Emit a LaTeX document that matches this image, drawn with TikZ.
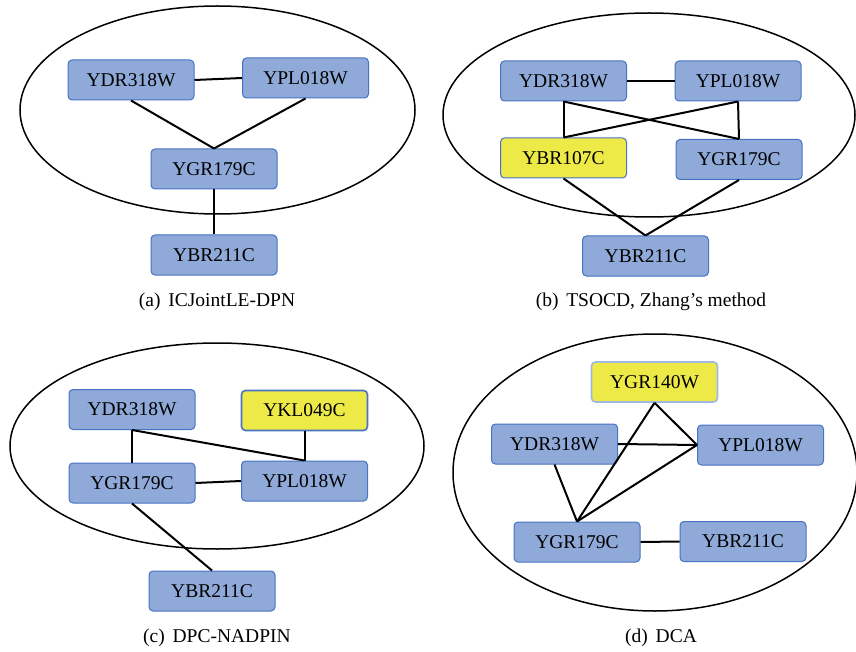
\documentclass[tikz,border=0pt]{standalone}
\usepackage{fontspec}
\setmainfont{Liberation Serif}
\usepackage{tikz}
\usetikzlibrary{shapes}

\definecolor{boxblue}{RGB}{143,169,216}
\definecolor{edgeblue}{RGB}{72,114,196}
\definecolor{hityellow}{RGB}{237,234,72}
\definecolor{paleblue}{RGB}{160,184,226}

\begin{document}
\begin{tikzpicture}[x=1pt, y=-1pt,
  gene/.style={draw=edgeblue, line width=1pt, fill=boxblue, rounded corners=4pt,
    minimum width=126pt, minimum height=40pt, inner sep=0pt, font=\fontsize{19.5}{19.5}\selectfont},
  newgene/.style={gene, fill=hityellow},
  link/.style={line width=2pt, black},
  module/.style={line width=1.5pt, black},
  lbl/.style={font=\fontsize{19.5}{19.5}\selectfont}]

  \useasboundingbox[fill=white] (0,0) rectangle (856,652);

  %% (a)
  \draw[module] (217.5,110) ellipse [x radius=197.5, y radius=104];
  \node[gene] (aYDR) at (131,80) {YDR318W};
  \node[gene] (aYPL) at (305.5,78) {YPL018W};
  \node[gene] (aYGR) at (214,169) {YGR179C};
  \node[gene] (aYBR) at (214,255) {YBR211C};
  \draw[link] (aYDR.east) -- (aYPL.west);
  \draw[link] (aYDR.south) -- (aYGR.north);
  \draw[link] (aYPL.south) -- (aYGR.north);
  \draw[link] (aYGR.south) -- (aYBR.north);
  \node[lbl] (acap) at (217,302) {(a)\hspace{0.4em}ICJointLE-DPN};

  %% (b)
  \draw[module] (649,115) ellipse [x radius=206, y radius=102];
  \node[gene] (bYDR) at (563.5,81) {YDR318W};
  \node[gene] (bYPL) at (738,81) {YPL018W};
  \node[newgene] (bYBRa) at (563.5,158) {YBR107C};
  \node[gene] (bYGR) at (739,159.5) {YGR179C};
  \node[gene] (bYBR) at (645.5,256) {YBR211C};
  \draw[link] (bYDR.east) -- (bYPL.west);
  \draw[link] (bYDR.south) -- (bYBRa.north);
  \draw[link] (bYDR.south) -- (bYGR.north);
  \draw[link] (bYPL.south) -- (bYBRa.north);
  \draw[link] (bYPL.south) -- (bYGR.north);
  \draw[link] (bYBRa.south) -- (bYBR.north); %% YBR107C->YBR211C
  \draw[link] (bYGR.south) -- (bYBR.north);
  \node[lbl] (bcap) at (651,302) {(b)\hspace{0.4em}TSOCD, Zhang’s method};

  %% (c)
  \draw[module] (217,446) ellipse [x radius=207, y radius=103];
  \node[gene] (cYDR) at (132,409.5) {YDR318W};
  \node[newgene, line width=1.6pt] (cYKL) at (304.5,410.5) {YKL049C};
  \node[gene] (cYGR) at (132,483) {YGR179C};
  \node[gene] (cYPL) at (304.5,481) {YPL018W};
  \node[gene] (cYBR) at (212,591) {YBR211C};
  \draw[link] (cYDR.south) -- (cYGR.north);
  \draw[link] (cYDR.south) -- (cYPL.north);
  \draw[link] (cYKL.south) -- (cYPL.north);
  \draw[link] (cYGR.east) -- (cYPL.west);
  \draw[link] (cYGR.south) -- (cYBR.north);
  \node[lbl] (ccap) at (217,638) {(c)\hspace{0.4em}DPC-NADPIN};

  %% (d)
  \draw[module] (655,472.5) ellipse [x radius=202, y radius=138.5];
  \node[newgene, draw=paleblue, line width=1.6pt] (dYGRn) at (654.5,382) {YGR140W};
  \node[gene] (dYDR) at (554.5,444) {YDR318W};
  \node[gene] (dYPL) at (760.5,445) {YPL018W};
  \node[gene] (dYGR) at (577,542) {YGR179C};
  \node[gene] (dYBR) at (743,541.5) {YBR211C};
  \draw[link] (dYGRn.south) -- (dYPL.west);
  \draw[link] (dYGRn.south) -- (dYGR.north);
  \draw[link] (dYDR.east) -- (dYPL.west);
  \draw[link] (dYDR.south) -- (dYGR.north);
  \draw[link] (dYPL.west) -- (dYGR.north);
  \draw[link] (dYGR.east) -- (dYBR.west);
  \node[lbl] (dcap) at (661,638) {(d)\hspace{0.4em}DCA};
\end{tikzpicture}
\end{document}
